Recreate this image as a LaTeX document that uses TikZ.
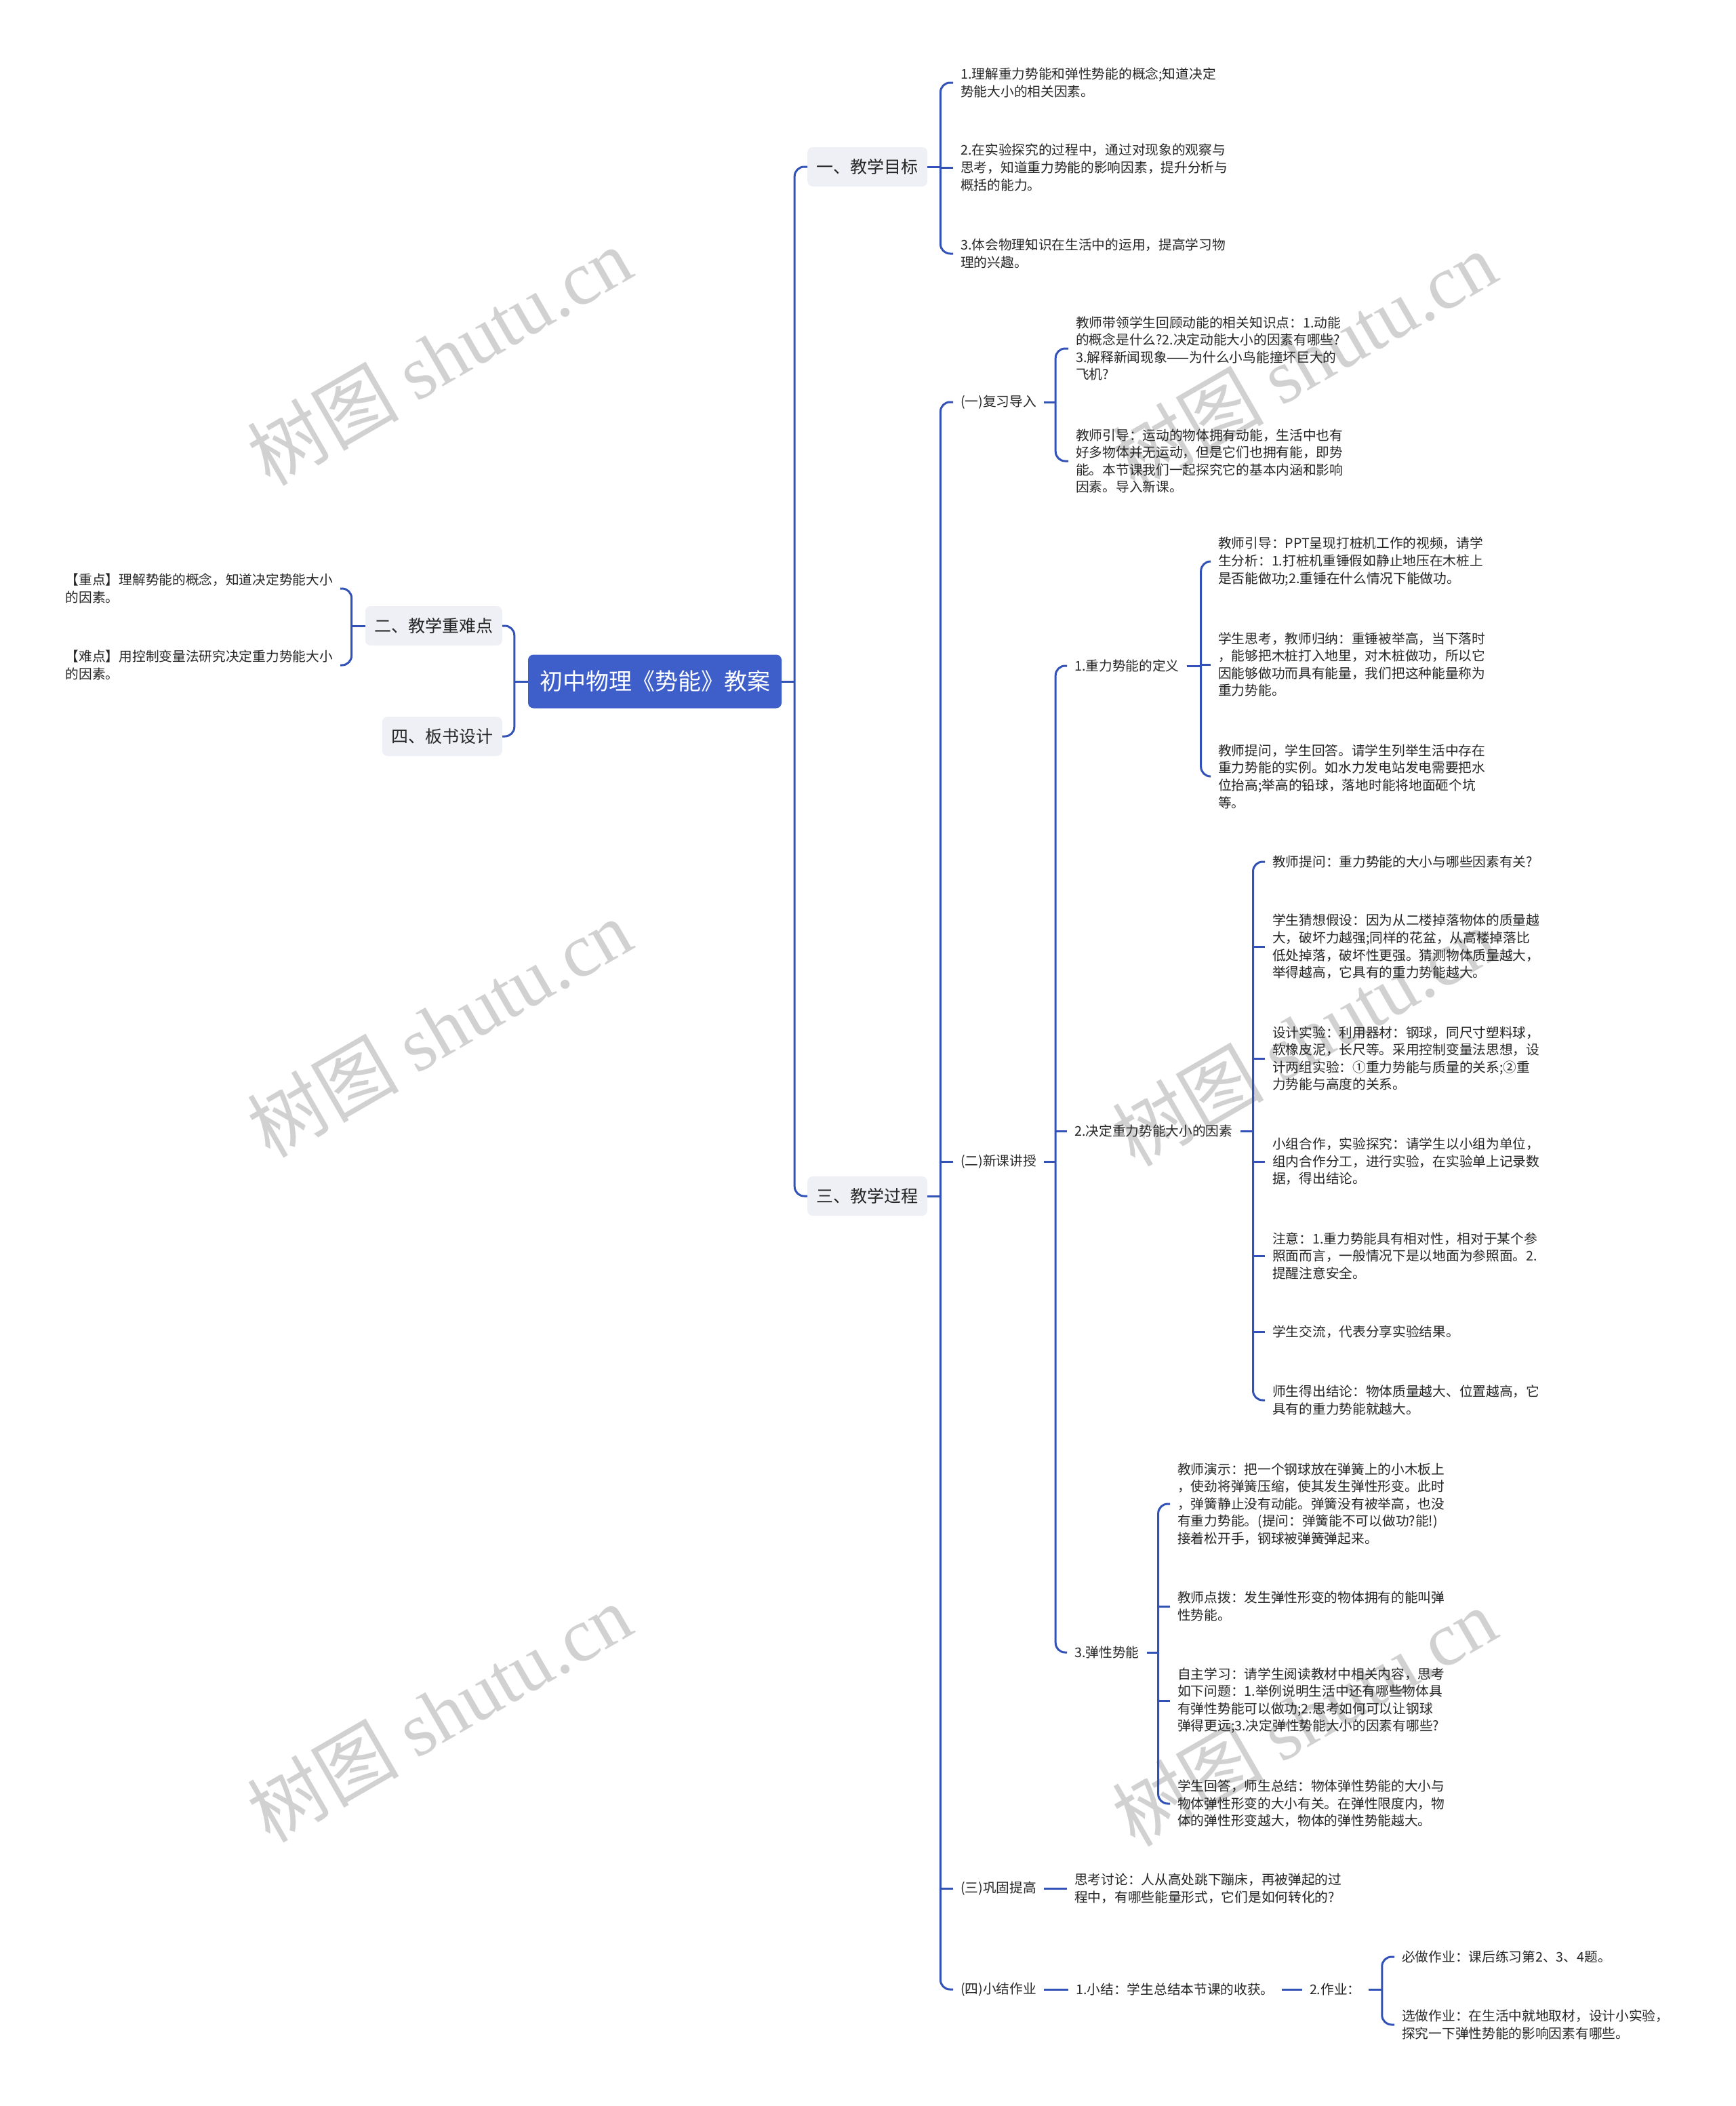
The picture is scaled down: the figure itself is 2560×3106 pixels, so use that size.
\documentclass[tikz,border=0pt]{standalone}
\usepackage{fontspec}
\setmainfont{Noto Sans CJK SC}
\newfontfamily\markserif{Liberation Serif}
\usepackage{xcolor}
\usepackage{tikz}
\usetikzlibrary{positioning}

\definecolor{linkblue}{RGB}{51,82,184}
\definecolor{rootblue}{RGB}{62,94,202}
\definecolor{boxgray}{RGB}{238,240,245}
\definecolor{ink}{RGB}{38,38,38}

\begin{document}
\begin{tikzpicture}[x=1pt, y=-1pt, root/.style={rectangle, fill=rootblue, text=white, rounded corners=8pt, inner xsep=17pt, minimum height=79pt, font=\fontsize{34}{40}\selectfont}, branch/.style={rectangle, fill=boxgray, text=ink, rounded corners=8pt, inner xsep=13.5pt, minimum height=58pt, font=\fontsize{25}{30}\selectfont}, leaf/.style={rectangle, text=ink, inner xsep=11pt, inner ysep=2pt, align=left, font=\fontsize{19.7}{25.6}\selectfont}, link/.style={draw=linkblue, line width=3pt, rounded corners=14pt}, stamp/.style={text=black!18, rotate=30, font=\fontsize{112}{112}\selectfont}]

    \useasboundingbox[fill=white] (0,0) rectangle (2560,3106);

    % Watermarks
    \node[stamp] (wm1) at (648,525)   {树图 {\markserif shutu.cn}};
    \node[stamp] (wm2) at (1924,531)  {树图 {\markserif shutu.cn}};
    \node[stamp] (wm3) at (648,1516)  {树图 {\markserif shutu.cn}};
    \node[stamp] (wm4) at (1924,1529) {树图 {\markserif shutu.cn}};
    \node[stamp] (wm5) at (648,2526)  {树图 {\markserif shutu.cn}};
    \node[stamp] (wm6) at (1924,2532) {树图 {\markserif shutu.cn}};

    % Nodes
    \node[root] (root) at (966,1005) {初中物理《势能》教案};
    \node[branch, anchor=west] (goals)   at (1191,246)  {一、教学目标};
    \node[branch, anchor=west] (process) at (1191,1764) {三、教学过程};
    \node[branch, anchor=east] (keypts)  at (741,923)   {二、教学重难点};
    \node[branch, anchor=east] (board)   at (741,1086)  {四、板书设计};

    % Goals
    \node[leaf, anchor=west] (goal1) at (1406,122) {1.理解重力势能和弹性势能的概念;知道决定\\势能大小的相关因素。};
    \node[leaf, anchor=west] (goal2) at (1406,247) {2.在实验探究的过程中，通过对现象的观察与\\思考，知道重力势能的影响因素，提升分析与\\概括的能力。};
    \node[leaf, anchor=west] (goal3) at (1406,374) {3.体会物理知识在生活中的运用，提高学习物\\理的兴趣。};

    % Key points
    \node[leaf, anchor=east] (key1) at (502,868) {【重点】理解势能的概念，知道决定势能大小\\的因素。};
    \node[leaf, anchor=east] (key2) at (502,981) {【难点】用控制变量法研究决定重力势能大小\\的因素。};

    % Process
    \node[leaf, anchor=west] (review)    at (1406,593)  {(一)复习导入};
    \node[leaf, anchor=west] (newlesson) at (1406,1713) {(二)新课讲授};
    \node[leaf, anchor=west] (consol)    at (1406,2785) {(三)巩固提高};
    \node[leaf, anchor=west] (wrapup)    at (1406,2934) {(四)小结作业};

    \node[leaf, anchor=west] (review1) at (1576,514) {教师带领学生回顾动能的相关知识点：1.动能\\的概念是什么?2.决定动能大小的因素有哪些?\\3.解释新闻现象——为什么小鸟能撞坏巨大的\\飞机?};
    \node[leaf, anchor=west] (review2) at (1576,680) {教师引导：运动的物体拥有动能，生活中也有\\好多物体并无运动，但是它们也拥有能，即势\\能。本节课我们一起探究它的基本内涵和影响\\因素。导入新课。};

    \node[leaf, anchor=west] (gravdef) at (1574,982)  {1.重力势能的定义};
    \node[leaf, anchor=west] (gravfac) at (1574,1668) {2.决定重力势能大小的因素};
    \node[leaf, anchor=west] (elastic) at (1574,2437) {3.弹性势能};

    \node[leaf, anchor=west] (def1) at (1786,828)  {教师引导：PPT呈现打桩机工作的视频，请学\\生分析：1.打桩机重锤假如静止地压在木桩上\\是否能做功;2.重锤在什么情况下能做功。};
    \node[leaf, anchor=west] (def2) at (1786,980)  {学生思考，教师归纳：重锤被举高，当下落时\\，能够把木桩打入地里，对木桩做功，所以它\\因能够做功而具有能量，我们把这种能量称为\\重力势能。};
    \node[leaf, anchor=west] (def3) at (1786,1145) {教师提问，学生回答。请学生列举生活中存在\\重力势能的实例。如水力发电站发电需要把水\\位抬高;举高的铅球，落地时能将地面砸个坑\\等。};

    \node[leaf, anchor=west] (fac1) at (1866,1271) {教师提问：重力势能的大小与哪些因素有关?};
    \node[leaf, anchor=west] (fac2) at (1866,1396) {学生猜想假设：因为从二楼掉落物体的质量越\\大，破坏力越强;同样的花盆，从高楼掉落比\\低处掉落，破坏性更强。猜测物体质量越大，\\举得越高，它具有的重力势能越大。};
    \node[leaf, anchor=west] (fac3) at (1866,1561) {设计实验：利用器材：钢球，同尺寸塑料球，\\软橡皮泥，长尺等。采用控制变量法思想，设\\计两组实验：①重力势能与质量的关系;②重\\力势能与高度的关系。};
    \node[leaf, anchor=west] (fac4) at (1866,1713) {小组合作，实验探究：请学生以小组为单位，\\组内合作分工，进行实验，在实验单上记录数\\据，得出结论。};
    \node[leaf, anchor=west] (fac5) at (1866,1852) {注意：1.重力势能具有相对性，相对于某个参\\照面而言，一般情况下是以地面为参照面。2.\\提醒注意安全。};
    \node[leaf, anchor=west] (fac6) at (1866,1964) {学生交流，代表分享实验结果。};
    \node[leaf, anchor=west] (fac7) at (1866,2065) {师生得出结论：物体质量越大、位置越高，它\\具有的重力势能就越大。};

    \node[leaf, anchor=west] (ela1) at (1726,2218) {教师演示：把一个钢球放在弹簧上的小木板上\\，使劲将弹簧压缩，使其发生弹性形变。此时\\，弹簧静止没有动能。弹簧没有被举高，也没\\有重力势能。(提问：弹簧能不可以做功?能!)\\接着松开手，钢球被弹簧弹起来。};
    \node[leaf, anchor=west] (ela2) at (1726,2369) {教师点拨：发生弹性形变的物体拥有的能叫弹\\性势能。};
    \node[leaf, anchor=west] (ela3) at (1726,2508) {自主学习：请学生阅读教材中相关内容，思考\\如下问题：1.举例说明生活中还有哪些物体具\\有弹性势能可以做功;2.思考如何可以让钢球\\弹得更远;3.决定弹性势能大小的因素有哪些?};
    \node[leaf, anchor=west] (ela4) at (1726,2660) {学生回答，师生总结：物体弹性势能的大小与\\物体弹性形变的大小有关。在弹性限度内，物\\体的弹性形变越大，物体的弹性势能越大。};

    \node[leaf, anchor=west] (consol1) at (1574,2785) {思考讨论：人从高处跳下蹦床，再被弹起的过\\程中，有哪些能量形式，它们是如何转化的?};
    \node[leaf] (summ) [right=36pt of wrapup] {1.小结：学生总结本节课的收获。};
    \node[leaf] (hw)   [right=30pt of summ]   {2.作业：};
    \node[leaf, anchor=west] (hw1) at (2057,2886) {必做作业：课后练习第2、3、4题。};
    \node[leaf, anchor=west] (hw2) at (2057,2986) {选做作业：在生活中就地取材，设计小实验，\\探究一下弹性势能的影响因素有哪些。};

    % Lines ---------------
    \draw[link] (root.east) -- ++(19,0) coordinate (rootR);
    \draw[link] (goals.west) -| (rootR) |- (process.west);
    \draw[link] (root.west) -- ++(-20,0) coordinate (rootL);
    \draw[link] (keypts.east) -| (rootL) |- (board.east);

    % Goals
    \draw[link] (goals.east) -- ++(19,0) coordinate (goalsR);
    \draw[link] (goal1.west) -| (goalsR) |- (goal3.west);
    \draw[link] (goalsR |- goal2.west) -- (goal2.west);

    % Key points
    \draw[link] (keypts.west) -- ++(-20,0) coordinate (keyL);
    \draw[link] (key1.east) -| (keyL) |- (key2.east);

    % Process
    \draw[link] (process.east) -- ++(19,0) coordinate (procR);
    \draw[link] (review.west) -| (procR) |- (wrapup.west);
    \draw[link] (procR |- newlesson.west) -- (newlesson.west);
    \draw[link] (procR |- consol.west) -- (consol.west);

    % Review
    \draw[link] (review.east) -- ++(17,0) coordinate (revR);
    \draw[link] (review1.west) -| (revR) |- (review2.west);

    % New lesson
    \draw[link] (newlesson.east) -- ++(17,0) coordinate (newR);
    \draw[link] (gravdef.west) -| (newR) |- (elastic.west);
    \draw[link] (newR |- gravfac.west) -- (gravfac.west);

    \draw[link] (gravdef.east) -- ++(21,0) coordinate (defR);
    \draw[link] (def1.west) -| (defR) |- (def3.west);
    \draw[link] (defR |- def2.west) -- (def2.west);

    \draw[link] (gravfac.east) -- ++(19,0) coordinate (facR);
    \draw[link] (fac1.west) -| (facR) |- (fac7.west);
    \draw[link] (facR |- fac2.west) -- (fac2.west);
    \draw[link] (facR |- fac3.west) -- (fac3.west);
    \draw[link] (facR |- fac4.west) -- (fac4.west);
    \draw[link] (facR |- fac5.west) -- (fac5.west);
    \draw[link] (facR |- fac6.west) -- (fac6.west);

    \draw[link] (elastic.east) -- ++(17,0) coordinate (elaR);
    \draw[link] (ela1.west) -| (elaR) |- (ela4.west);
    \draw[link] (elaR |- ela2.west) -- (ela2.west);
    \draw[link] (elaR |- ela3.west) -- (ela3.west);

    % Consolidation, wrap-up
    \draw[link] (consol.east) -- (consol1.west);
    \draw[link] (wrapup.east) -- (summ.west);
    \draw[link] (summ.east) -- (hw.west);
    \draw[link] (hw.east) -- ++(20,0) coordinate (hwR);
    \draw[link] (hw1.west) -| (hwR) |- (hw2.west);

\end{tikzpicture}
\end{document}
